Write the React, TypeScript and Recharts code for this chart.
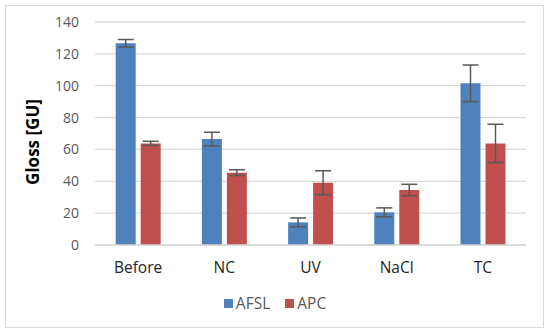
import React from 'react';
import { BarChart, Bar, XAxis, YAxis, CartesianGrid, ErrorBar } from 'recharts';

const categories = ['Before', 'NC', 'UV', 'NaCl', 'TC'];
const afslValues = [126.6, 66.5, 14.2, 20.5, 101.5];
const afslErrors = [2.4, 4.3, 2.8, 2.8, 11.5];
const apcValues = [63.8, 45.4, 39.1, 34.5, 63.8];
const apcErrors = [1.3, 1.8, 7.5, 3.6, 12.0];
const yTicks = [0, 20, 40, 60, 80, 100, 120, 140];
const seriesNames = ['AFSL', 'APC'];
const seriesColors = ['#4f81bd', '#c0504d'];

const data = categories.map((c, i) => ({
  name: c,
  afsl: afslValues[i],
  afslErr: afslErrors[i],
  apc: apcValues[i],
  apcErr: apcErrors[i],
}));

const FONT = '"Open Sans", "Liberation Sans", sans-serif';

const YLabel = () => (
  <text
    x={32}
    y={142}
    transform="rotate(-90 32 142)"
    textAnchor="middle"
    dominantBaseline="central"
    fontFamily={FONT}
    fontWeight="bold"
    fontSize={17}
    fill="#000000"
  >
    Gloss [GU]
  </text>
);

export default function App() {
  return (
    <div style={{ position: 'absolute', left: 0, top: 0, width: 550, height: 334, background: '#ffffff', fontFamily: FONT }}>
      <div
        style={{
          position: 'absolute',
          left: 5,
          top: 5,
          width: 537,
          height: 321,
          border: '1px solid #d9d9d9',
        }}
      />
      <div style={{ position: 'absolute', left: 0, top: 0 }}>
        <BarChart
          width={550}
          height={334}
          data={data}
          margin={{ top: 22, right: 24, bottom: 59, left: 0 }}
          barCategoryGap="24%"
          barGap={5}
        >
          <CartesianGrid horizontal vertical={false} stroke="#d9d9d9" strokeWidth={1.3} />
          <XAxis
            dataKey="name"
            height={30}
            axisLine={{ stroke: '#d9d9d9', strokeWidth: 1.3 }}
            tickLine={false}
            tickSize={0}
            tickMargin={17}
            tick={{ fill: '#262626', fontSize: 15.5, fontFamily: FONT }}
            interval={0}
          />
          <YAxis
            width={95}
            domain={[0, 140]}
            ticks={yTicks}
            axisLine={false}
            tickLine={false}
            tickSize={0}
            tickMargin={16}
            tick={{ fill: '#595959', fontSize: 14, fontFamily: FONT }}
            label={<YLabel />}
          />
          <Bar dataKey="afsl" name={seriesNames[0]} fill={seriesColors[0]} isAnimationActive={false}>
            <ErrorBar dataKey="afslErr" width={8} stroke="#595959" strokeWidth={1.5} direction="y" isAnimationActive={false} />
          </Bar>
          <Bar dataKey="apc" name={seriesNames[1]} fill={seriesColors[1]} isAnimationActive={false}>
            <ErrorBar dataKey="apcErr" width={8} stroke="#595959" strokeWidth={1.5} direction="y" isAnimationActive={false} />
          </Bar>
        </BarChart>
      </div>
      <div
        style={{
          position: 'absolute',
          left: 0,
          top: 293,
          width: 550,
          display: 'flex',
          justifyContent: 'center',
          alignItems: 'center',
          fontSize: 15.5,
          color: '#595959',
          lineHeight: '20px',
        }}
      >
        {seriesNames.map((n, i) => (
          <span key={n} style={{ display: 'inline-flex', alignItems: 'center', marginRight: i === 0 ? 15 : 0 }}>
            <span style={{ display: 'inline-block', width: 9, height: 9, background: seriesColors[i], marginRight: 3 }} />
            <span>{n}</span>
          </span>
        ))}
      </div>
    </div>
  );
}
